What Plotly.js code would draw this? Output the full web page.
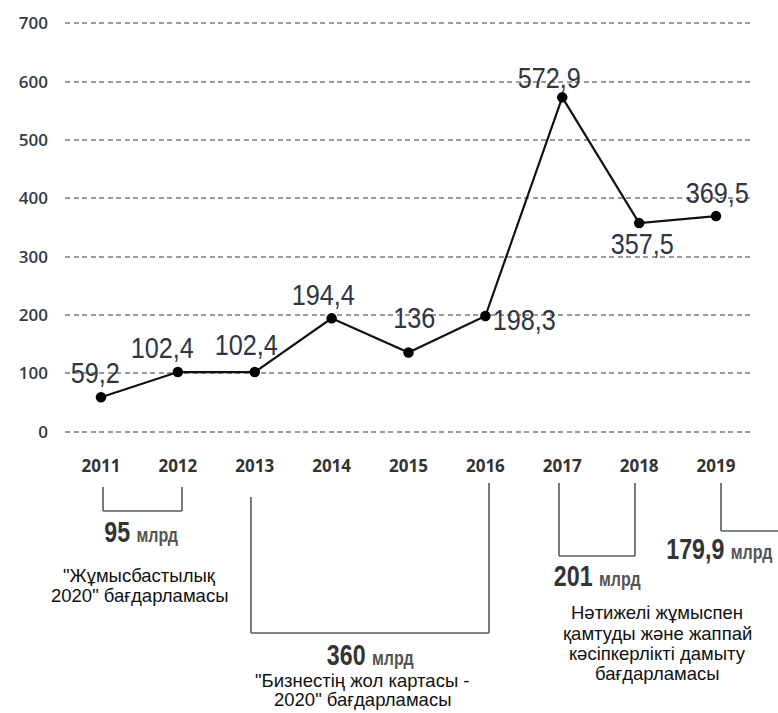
<!DOCTYPE html>
<html>
<head>
<meta charset="utf-8">
<script src="https://cdn.plot.ly/plotly-3.0.1.min.js"></script>
<style>
html,body{margin:0;padding:0;background:#fff;}
#chart{width:778px;height:713px;}
</style>
</head>
<body>
<div id="chart"></div>
<script>
// ---- data ----
const years = ['2011','2012','2013','2014','2015','2016','2017','2018','2019'];
const values = [59.2, 102.4, 102.4, 194.4, 136, 198.3, 572.9, 357.5, 369.5];
const valueLabels = ['59,2','102,4','102,4','194,4','136','198,3','572,9','357,5','369,5'];
const yTickVals = [0, 100, 200, 300, 400, 500, 600, 700];
const programAmounts = ['95', '360', '201', '179,9'];
const programUnit = 'млрд';
const programNameLines = [
  ['"Жұмысбастылық', '2020" бағдарламасы'],
  ['"Бизнестің жол картасы -', '2020" бағдарламасы'],
  ['Нәтижелі жұмыспен', 'қамтуды және жаппай', 'кәсіпкерлікті дамыту', 'бағдарламасы']
];

// ---- layout geometry (pixels) ----
const W = 778, H = 713;
const M = {l: 65, r: 28, t: 22, b: 280};
const PW = W - M.l - M.r, PH = H - M.t - M.b;
const xp = px => (px - M.l) / PW;
const yp = py => (H - M.b - py) / PH;

const labelColor = '#2f3542';

// label offsets (pixels) relative to each point
const labelShift = [[-6,24],[-15,24],[-8,27],[-8,23],[5,34],[39,-4],[-13,19],[3,-21],[1,23]];

const annotations = [];
const squeeze = {}; // annotation index -> horizontal scale
years.forEach((yr, i) => {
  squeeze[annotations.length] = 0.87;
  annotations.push({
    x: i, y: values[i], xref: 'x', yref: 'y',
    text: valueLabels[i], showarrow: false,
    xanchor: 'center', yanchor: 'middle',
    xshift: labelShift[i][0], yshift: labelShift[i][1],
    font: {family: 'Liberation Sans, Arial, sans-serif', size: 29, color: labelColor}
  });
});

// program brackets
const line = {color: '#5a5a5a', width: 1.6};
const shapes = [];
function seg(x0, y0, x1, y1) {
  shapes.push({type: 'line', xref: 'paper', yref: 'paper',
    x0: xp(x0), y0: yp(y0), x1: xp(x1), y1: yp(y1), line: line});
}
// 2011-2012
seg(103, 487, 103, 511); seg(103, 511, 182, 511); seg(182, 511, 182, 487);
// 2013-2016
seg(251, 497, 251, 633); seg(251, 633, 489, 633); seg(489, 633, 489, 483);
// 2017-2018
seg(559, 483, 559, 556); seg(559, 556, 635, 556); seg(635, 556, 635, 483);
// 2019
seg(721, 483, 721, 531); seg(721, 531, 778, 531);

const amountPos = [[141, 532], [370, 655], [597, 576], [719, 549]];
programAmounts.forEach((a, k) => {
  squeeze[annotations.length] = 0.8;
  annotations.push({
    xref: 'paper', yref: 'paper', x: xp(amountPos[k][0]), y: yp(amountPos[k][1]),
    xanchor: 'center', yanchor: 'middle', showarrow: false,
    text: '<b>' + a + '</b> <b><span style="font-size:20px;color:#555">' + programUnit + '</span></b>',
    font: {family: 'Liberation Sans, Arial, sans-serif', size: 29, color: '#333'}
  });
});

const nameX = [139, 362, 657];
const nameY = [[575, 595], [680, 699], [612, 633, 653, 673]];
programNameLines.forEach((lines, k) => {
  lines.forEach((t, j) => {
    annotations.push({
      xref: 'paper', yref: 'paper', x: xp(nameX[k]), y: yp(nameY[k][j]),
      xanchor: 'center', yanchor: 'middle', showarrow: false,
      text: t,
      font: {family: 'Liberation Sans, Arial, sans-serif', size: 18.5, color: '#111'}
    });
  });
});

const trace = {
  type: 'scatter', mode: 'lines+markers',
  x: years, y: values,
  line: {color: '#111', width: 2.2},
  marker: {color: '#000', size: 10.5},
  hoverinfo: 'x+y', cliponaxis: false
};

const layout = {
  width: W, height: H,
  margin: M,
  paper_bgcolor: '#fff', plot_bgcolor: '#fff',
  showlegend: false,
  xaxis: {
    type: 'category', range: [-0.468, 8.442],
    showgrid: false, zeroline: false, showline: false,
    ticks: '', ticklabelstandoff: 21,
    tickfont: {family: 'Open Sans, sans-serif', size: 17, color: '#333', weight: 700}
  },
  yaxis: {
    range: [-2, 702], tickvals: yTickVals,
    showgrid: true, gridcolor: '#9a9a9a', gridwidth: 2, griddash: '5px,3.5px',
    zeroline: false, showline: false, ticks: '', ticklabelstandoff: 16,
    tickfont: {family: 'Open Sans, sans-serif', size: 17, color: '#333a48', weight: 600}
  },
  shapes: shapes,
  annotations: annotations
};

Plotly.newPlot('chart', [trace], layout, {displayModeBar: false, staticPlot: true}).then(() => {
  // squeeze the display-number annotations horizontally to mimic a condensed typeface
  document.querySelectorAll('#chart g.annotation').forEach(g => {
    const idx = +g.getAttribute('data-index');
    const s = squeeze[idx];
    if (!s) return;
    const t = g.querySelector('text.annotation-text');
    if (!t) return;
    const bb = t.getBBox();
    const cx = bb.x + bb.width / 2;
    const prev = t.getAttribute('transform') || '';
    t.setAttribute('transform', prev + ' translate(' + cx + ',0) scale(' + s + ',1) translate(' + (-cx) + ',0)');
  });
});
</script>
</body>
</html>
